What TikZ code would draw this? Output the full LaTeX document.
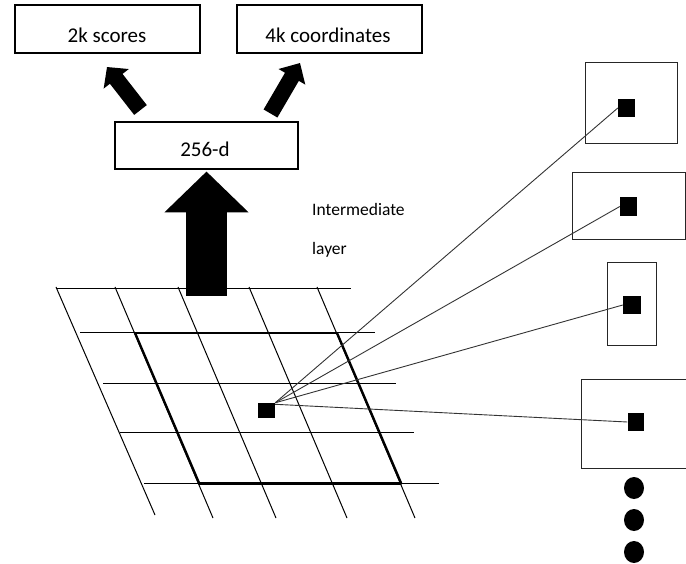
\documentclass[tikz,border=0pt]{standalone}
\usepackage{fontspec}
\setmainfont{Carlito}
\usetikzlibrary{arrows.meta}
\begin{document}
\begin{tikzpicture}[x=1pt,y=-1pt,
  topbox/.style={draw, line width=1.8pt, inner sep=0pt},
  rbox/.style={draw=black!85, line width=1pt, inner sep=0pt},
  sq/.style={fill=black, draw=none, inner sep=0pt},
  boxtxt/.style={anchor=base, inner sep=0pt, font=\fontsize{21}{24}\selectfont},
  sidetxt/.style={anchor=base west, inner sep=0pt, font=\fontsize{17.5}{20}\selectfont},
  gridline/.style={line width=1pt},
  thickline/.style={line width=2.4pt, line cap=round},
  link/.style={line width=0.9pt, draw=black!80},
]
\useasboundingbox (0,0) rectangle (686,564);

% top boxes
\node[topbox, minimum width=185pt, minimum height=48pt] (scores) at (107.5,29) {};
\node[topbox, minimum width=185pt, minimum height=48pt] (coords) at (329.5,29) {};
\node[topbox, minimum width=183pt, minimum height=47pt] (d256) at (206.5,145.5) {};
\node[boxtxt] (tscores) at (107,43) {2k scores};
\node[boxtxt] (tcoords) at (328,43) {4k coordinates};
\node[boxtxt] (td256) at (205,157) {256-d};

% side text
\node[sidetxt] (tinter) at (312,216) {Intermediate};
\node[sidetxt] (tlayer) at (312,255) {layer};

% small arrows
\coordinate (la1) at (140.5,110);
\coordinate (la2) at (107,67);
\coordinate (ra1) at (270.5,113.5);
\coordinate (ra2) at (300,63);
\draw[line width=16pt, -{Triangle[width=31pt,length=15pt]}] (la1) -- (la2);
\draw[line width=16pt, -{Triangle[width=30pt,length=16pt]}] (ra1) -- (ra2);

% grid
\draw[gridline] (56,289) -- (351,289);
\draw[gridline] (80,333) -- (375,333);
\draw[gridline] (103,383) -- (396,383);
\draw[gridline] (120,432) -- (414,432);
\draw[gridline] (144,483) -- (439,483);
\draw[gridline] (56,287) -- (155,515);
\draw[gridline] (115,287) -- (213,518);
\draw[gridline] (178,287) -- (276,518);
\draw[gridline] (249,287) -- (347,518);
\draw[gridline] (317,287) -- (415,518);
\draw[thickline, line width=2pt] (135,333) -- (337,333);
\draw[thickline] (337,333) -- (401,483);
\draw[thickline, line width=3pt] (401,483) -- (199,483);
\draw[thickline] (199,483) -- (135,333);

% big arrow
\coordinate (bigtail) at (206.5,296);
\coordinate (bigtip) at (206.5,171.5);
\draw[line width=41pt, -{Triangle[width=82pt,length=41pt]}] (bigtail) -- (bigtip);

% right boxes
\node[rbox, minimum width=92pt, minimum height=81pt] (bA) at (631,103.5) {};
\node[rbox, minimum width=113pt, minimum height=67pt] (bB) at (628.5,206.5) {};
\node[rbox, minimum width=49pt, minimum height=83pt] (bC) at (631.5,304.5) {};
\node[rbox, minimum width=111pt, minimum height=89pt] (bD) at (636.5,423.5) {};

% squares
\node[sq, minimum width=17pt, minimum height=15pt] (src) at (266.5,410.5) {};
\node[sq, minimum width=17pt, minimum height=18pt] (tA) at (626.5,108) {};
\node[sq, minimum width=17pt, minimum height=19pt] (tB) at (628.5,206.5) {};
\node[sq, minimum width=18pt, minimum height=18pt] (tC) at (632,305) {};
\node[sq, minimum width=16pt, minimum height=18pt] (tD) at (635.5,422) {};

% links
\draw[link] (src.north east) -- (tA.west);
\draw[link] (src.north east) -- (tB.west);
\draw[link] (src.north east) -- (tC.west);
\draw[link] ([yshift=-1.5pt]src.north east) -- (tD.west);

% dots
\fill (634,488) ellipse [x radius=10, y radius=11];
\fill (634,520) ellipse [x radius=10, y radius=11];
\fill (634,552) ellipse [x radius=10, y radius=11];
\end{tikzpicture}
\end{document}
